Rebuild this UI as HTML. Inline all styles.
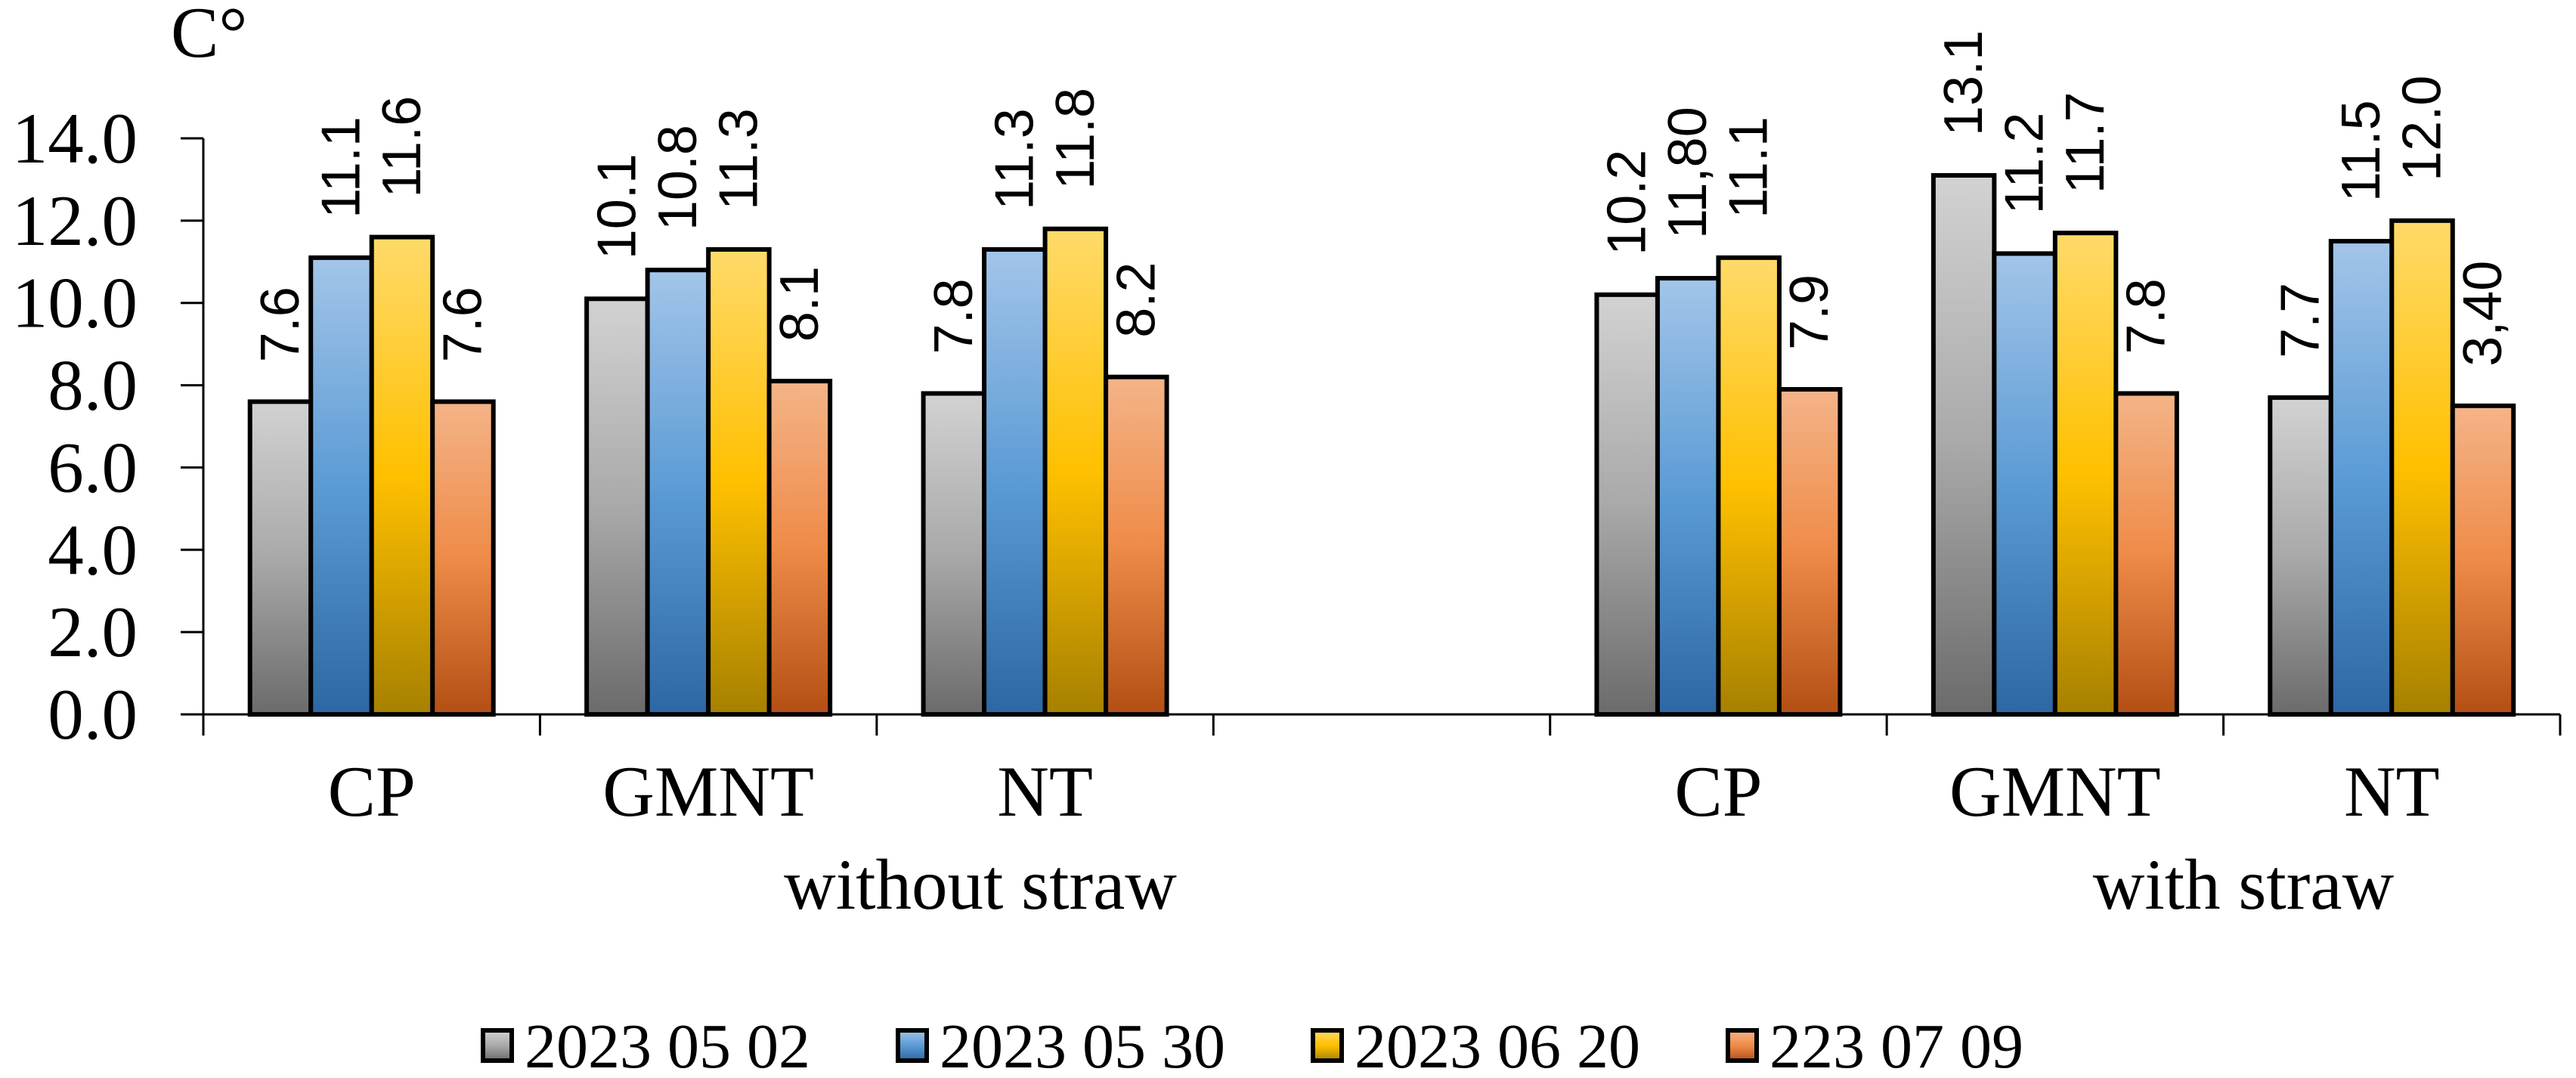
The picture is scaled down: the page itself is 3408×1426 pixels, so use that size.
<!DOCTYPE html>
<html><head><meta charset="utf-8"><style>
html,body{margin:0;padding:0;background:#fff;}
svg{display:block;}
.serif{font-family:"Liberation Serif",serif;fill:#000;}
.sans{font-family:"Liberation Sans",sans-serif;fill:#000;}
</style></head><body>
<svg id="chart" width="3408" height="1426" viewBox="0 0 3408 1426" xmlns="http://www.w3.org/2000/svg">
<defs>
<linearGradient id="g0" x1="0" y1="0" x2="0" y2="1"><stop offset="0" stop-color="#d2d2d2"/><stop offset="0.5" stop-color="#a9a9a9"/><stop offset="1" stop-color="#6b6b6b"/></linearGradient>
<linearGradient id="g1" x1="0" y1="0" x2="0" y2="1"><stop offset="0" stop-color="#a3c5e9"/><stop offset="0.5" stop-color="#5b9bd5"/><stop offset="1" stop-color="#2c67a3"/></linearGradient>
<linearGradient id="g2" x1="0" y1="0" x2="0" y2="1"><stop offset="0" stop-color="#ffda6a"/><stop offset="0.5" stop-color="#ffc000"/><stop offset="1" stop-color="#a68000"/></linearGradient>
<linearGradient id="g3" x1="0" y1="0" x2="0" y2="1"><stop offset="0" stop-color="#f4b488"/><stop offset="0.5" stop-color="#ef8b48"/><stop offset="1" stop-color="#b34f14"/></linearGradient>
</defs>
<g id="plot"></g>
</svg>
<script>
const categories = ["CP","GMNT","NT","","CP","GMNT","NT"];
const seriesNames = ["2023 05 02","2023 05 30","2023 06 20","223 07 09"];
const s1 = [7.6,10.1,7.8,null,10.2,13.1,7.7];
const s2 = [11.1,10.8,11.3,null,10.6,11.2,11.5];
const s3 = [11.6,11.3,11.8,null,11.1,11.7,12.0];
const s4 = [7.6,8.1,8.2,null,7.9,7.8,7.5];
const l1 = ["7.6","10.1","7.8","","10.2","13.1","7.7"];
const l2 = ["11.1","10.8","11.3","","11,80","11.2","11.5"];
const l3 = ["11.6","11.3","11.8","","11.1","11.7","12.0"];
const l4 = ["7.6","8.1","8.2","","7.9","7.8","3,40"];
const yTicks = [0,2,4,6,8,10,12,14];
const groupLabels = ["without straw","with straw"];

const NS="http://www.w3.org/2000/svg";
const root=document.getElementById('plot');
const X0=269, X1=3387, Y0=945, Y14=183;
const slot=(X1-X0)/categories.length;
const barW=80.5;
function y(v){return Y0-(v/14)*(Y0-Y14);}
function xc(i){return X0+slot*(i+0.5);}
function mk(tag,attrs){const e=document.createElementNS(NS,tag);for(const k in attrs)e.setAttribute(k,attrs[k]);root.appendChild(e);return e;}

const series=[s1,s2,s3,s4], labels=[l1,l2,l3,l4];
series.forEach((s,si)=>{
  s.forEach((v,i)=>{
    if(v===null) return;
    const left=xc(i)-2*barW+si*barW;
    const r=mk('rect',{x:left,y:y(v),width:barW,height:Y0-y(v),fill:'url(#g'+si+')',stroke:'#000','stroke-width':6});
    
    
    const cx=left+barW/2, ty=y(v)-52;
    const t=mk('text',{x:cx,y:ty,class:'sans','font-size':72,transform:'rotate(-90 '+cx+' '+ty+')','dominant-baseline':'central'});
    t.textContent=labels[si][i];
    
    
  });
});
// axes
const ax=mk('line',{x1:X0,y1:Y0,x2:X1,y2:Y0,stroke:'#000','stroke-width':3});


const ay=mk('line',{x1:X0,y1:Y0,x2:X0,y2:Y14,stroke:'#000','stroke-width':3});


yTicks.forEach(v=>{
  const tk=mk('line',{x1:X0-30,y1:y(v),x2:X0,y2:y(v),stroke:'#000','stroke-width':3});
  
  
  const t=mk('text',{x:182,y:y(v)+32,class:'serif','font-size':95,'text-anchor':'end'});
  t.textContent=v.toFixed(1);
  
  
});
for(let i=0;i<=categories.length;i++){
  const tk=mk('line',{x1:X0+slot*i,y1:Y0,x2:X0+slot*i,y2:Y0+28,stroke:'#000','stroke-width':3});
  
  
}
categories.forEach((c,i)=>{
  if(!c) return;
  const t=mk('text',{x:xc(i),y:1079,class:'serif','font-size':95,'text-anchor':'middle'});
  t.textContent=c;
  
  
});
[[1297,groupLabels[0]],[2968,groupLabels[1]]].forEach(([x,s])=>{
  const t=mk('text',{x:x,y:1202,class:'serif','font-size':95,'text-anchor':'middle'});
  t.textContent=s;
  
  
});
const yt=mk('text',{x:226,y:75,class:'serif','font-size':95});
yt.textContent='C°';


seriesNames.forEach((n,i)=>{
  const lx=636+549*i;
  const sq=mk('rect',{x:lx+3,y:1363,width:38,height:40,fill:'url(#g'+i+')',stroke:'#000','stroke-width':6});
  
  
  const t=mk('text',{x:lx+58,y:1412,class:'serif','font-size':84});
  t.textContent=n;
  
  
});
</script>
</body></html>
